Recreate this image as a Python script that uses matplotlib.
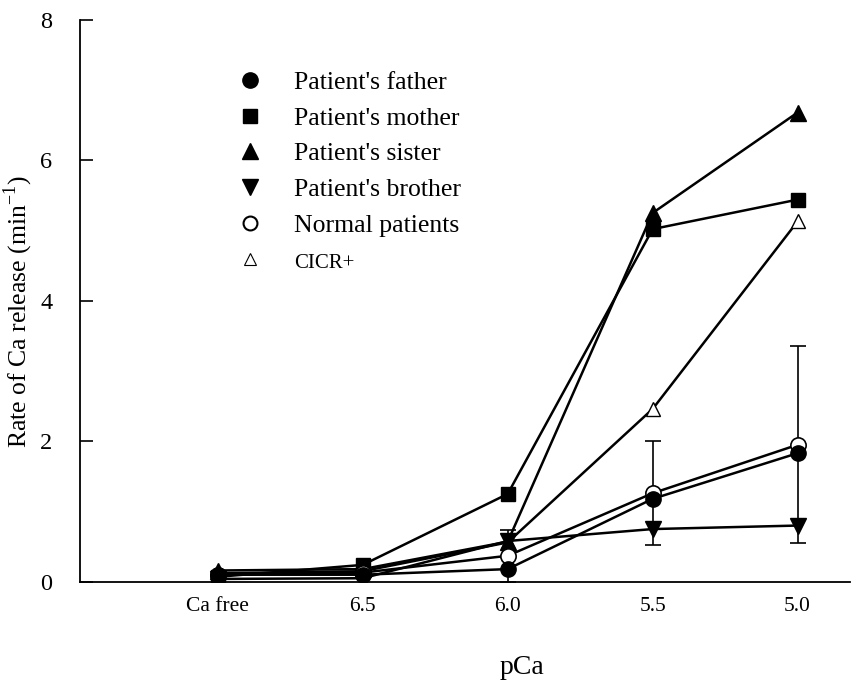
import matplotlib.pyplot as plt
from matplotlib.lines import Line2D

plt.rcParams['font.family'] = ['Liberation Serif', 'DejaVu Serif']

# pCa steps, left to right
categories = ["Ca free", "6.5", "6.0", "5.5", "5.0"]
xpos = [0, 1, 2, 3, 4]

# Rate of Ca release (min-1)
father = [0.10, 0.10, 0.18, 1.18, 1.83]
mother = [0.07, 0.24, 1.25, 5.02, 5.44]
sister = [0.16, 0.18, 0.57, 5.25, 6.68]
brother = [0.04, 0.05, 0.58, 0.75, 0.80]
normal = [0.10, 0.13, 0.37, 1.26, 1.95]
normal_sd = [0.0, 0.0, 0.37, 0.74, 1.40]
cicr = [0.12, 0.15, 0.56, 2.46, 5.13]

labels = ["Patient's father", "Patient's mother", "Patient's sister",
          "Patient's brother", "Normal patients", "CICR+"]

fig = plt.figure(figsize=(8.61, 6.82), dpi=100)
ax = fig.add_axes([0.093, 0.147, 0.894, 0.824])

lw = 1.8
ax.plot(xpos, cicr, color="black", lw=lw, marker="^", ms=10,
        mfc="white", mec="black", mew=1.0, zorder=3)
ax.plot(xpos, brother, color="black", lw=lw, marker="v", ms=11,
        mfc="black", mec="black", zorder=3)
ax.plot(xpos, sister, color="black", lw=lw, marker="^", ms=11,
        mfc="black", mec="black", zorder=3)
ax.plot(xpos, mother, color="black", lw=lw, marker="s", ms=10,
        mfc="black", mec="black", zorder=3)
ax.errorbar(xpos, normal, yerr=normal_sd, color="black", lw=lw,
            elinewidth=1.2, capsize=6, capthick=1.2, marker="o", ms=11,
            mfc="white", mec="black", mew=1.2, zorder=4)
ax.plot(xpos, father, color="black", lw=lw, marker="o", ms=11,
        mfc="black", mec="black", zorder=5)

handles = [
    Line2D([], [], ls="none", marker="o", ms=11, mfc="black", mec="black"),
    Line2D([], [], ls="none", marker="s", ms=10, mfc="black", mec="black"),
    Line2D([], [], ls="none", marker="^", ms=11, mfc="black", mec="black"),
    Line2D([], [], ls="none", marker="v", ms=11, mfc="black", mec="black"),
    Line2D([], [], ls="none", marker="o", ms=10, mfc="white", mec="black", mew=1.5),
    Line2D([], [], ls="none", marker="^", ms=9, mfc="white", mec="black", mew=0.8),
]
leg = ax.legend(handles, labels, loc="upper left", bbox_to_anchor=(0.189, 0.932),
                frameon=False, fontsize=18.5, handlelength=0.9, handletextpad=1.25,
                labelspacing=0.50, borderpad=0)
leg.get_texts()[5].set_fontsize(15)

ax.set_xlim(-0.95, 4.36)
ax.set_ylim(0, 8)
ax.set_xticks(xpos)
ax.set_xticklabels(categories)
ax.set_yticks([0, 2, 4, 6, 8])
ax.tick_params(axis="x", length=0, labelsize=15.5, pad=11)
ax.tick_params(axis="y", direction="in", length=9, width=1.2, labelsize=17.5, pad=20)
ax.spines["top"].set_visible(False)
ax.spines["right"].set_visible(False)
ax.spines["left"].set_linewidth(1.3)
ax.spines["bottom"].set_linewidth(1.3)

ax.set_ylabel("Rate of Ca release (min$^{\\mathregular{-1}}$)", fontsize=18.5)
ax.yaxis.set_label_coords(-0.058, 0.48)
ax.set_xlabel("pCa", fontsize=20)
ax.xaxis.set_label_coords(0.574, -0.131)

fig.savefig("out.png", dpi=100)
